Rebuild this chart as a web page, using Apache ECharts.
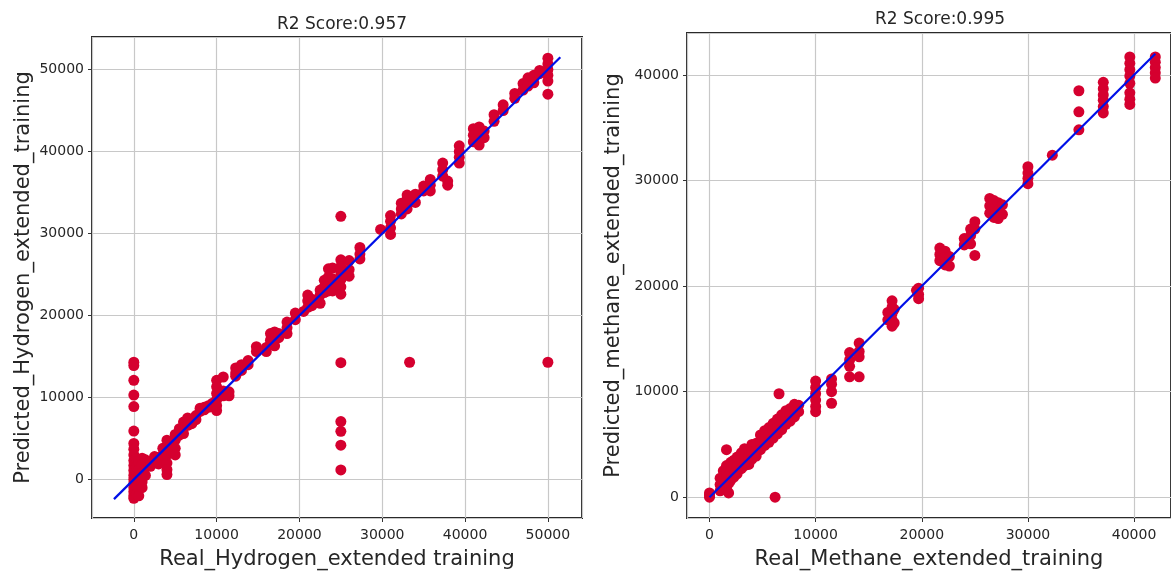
<!DOCTYPE html>
<html>
<head>
<meta charset="utf-8">
<script src="https://cdn.jsdelivr.net/npm/echarts@6/dist/echarts.min.js"></script>
<style>
  html, body { margin: 0; padding: 0; background: #fff; }
  #chart { width: 1171px; height: 575px; }
</style>
</head>
<body>
<div id="chart"></div>
<script>
// hydrogen: real value -> predicted values
const hydrogenReal = [
  0, 0, 0, 0, 0, 0, 0, 0, 0, 0, 0, 0, 0, 0, 0, 0, 0, 0, 0,
  300, 300, 300, 300, 300,
  600, 600, 600, 600, 600,
  1000, 1000, 1000, 1000, 1000,
  1400, 1400, 1400,
  2000, 2000, 2500, 2500, 3000, 3000, 3500, 3500,
  4000, 4000, 4000, 4000, 4000, 4000,
  4500, 4500, 5000, 5000, 5000, 5000, 5500, 5500,
  6000, 6000, 6000, 6500, 6500, 7000, 7000, 7500, 7500,
  8000, 8000, 8500, 8500, 9000, 9000, 9500, 9500,
  10000, 10000, 10000, 10000, 10000, 10000,
  10800, 10800, 10800, 11500, 11500,
  12300, 12300, 12300, 13000, 13000, 13800, 13800,
  14800, 14800, 16000, 16000, 16500, 16500, 16500,
  17000, 17000, 17000, 17500, 17500,
  18500, 18500, 18500, 19500, 19500, 20500,
  21000, 21000, 21000, 21500, 21500,
  22500, 22500, 22500, 23000, 23000, 23000,
  23500, 23500, 23500, 23500, 24000, 24000, 24000, 24000,
  25000, 25000, 25000, 25000, 25000, 25000, 25000, 25000, 25000, 25000, 25000, 25000,
  26000, 26000, 26000, 27300, 27300, 27300,
  29800, 31000, 31000, 31000, 31000,
  32300, 32300, 32300, 33000, 33000, 33000, 33000, 33300,
  34000, 34000, 35000, 35000, 35800, 35800, 35800,
  37300, 37300, 37300, 37900, 37900,
  39300, 39300, 39300, 39300,
  41000, 41000, 41000, 41700, 41700, 41700, 41700, 42300, 42300,
  43500, 43500, 44600, 44600, 46000, 46000, 47000, 47000,
  47600, 47600, 48300, 48300, 49000, 49000,
  50000, 50000, 50000, 50000, 50000, 50000, 50000
];
const hydrogenPred = [
  14300, 13900, 12100, 10300, 8900, 5900, 4400, 3700, 3000, 2300, 1700, 1100, 500, 0, -500, -1000, -1500, -2000, -2300,
  2500, 1500, 500, -800, -1800,
  2200, 1200, 0, -1200, -2000,
  2600, 1800, 800, -300, -1000,
  2400, 1500, 500,
  2200, 1600, 2800, 2000, 2700, 1900, 3800, 3000,
  4800, 4000, 3000, 2000, 1200, 600,
  4600, 3500, 5500, 4800, 3800, 3000, 6200, 5400,
  7000, 6300, 5600, 7500, 6600, 7300, 6800, 7800, 7300,
  8300, 8700, 8800, 8500, 9000, 8800, 9300, 9100,
  12100, 11300, 10500, 9700, 9000, 8400,
  10800, 10200, 12500, 10700, 10200,
  13600, 13000, 12600, 14000, 13300, 14500, 14000,
  16200, 15600, 16100, 15600, 17800, 17000, 16500,
  18000, 17200, 16300, 17800, 17300,
  19200, 18500, 17800, 20300, 19500, 20500,
  22500, 21800, 21000, 22000, 21200,
  23100, 22500, 21500, 24300, 23500, 22800,
  25700, 24700, 23700, 23000, 25800, 24500, 23800, 23000,
  26800, 26000, 25200, 24400, 23500, 22600, 32100, 14250, 7070, 5870, 4180, 1170,
  26700, 25600, 24800, 28300, 27500, 26900,
  30500, 32200, 31500, 30700, 29900,
  33700, 33000, 32400, 34700, 34200, 33600, 33000, 14300,
  34800, 33800, 35800, 35200, 36600, 35900, 35200,
  38600, 37800, 37000, 36400, 35900,
  40700, 40000, 39300, 38600,
  42800, 42000, 41200, 43000, 42300, 41500, 40800, 42500, 41700,
  44500, 43700, 45700, 45000, 47100, 46500, 48300, 47500,
  49000, 48000, 49300, 48400, 49900, 49500,
  51400, 50700, 50000, 49300, 48600, 47000, 14300
];

// methane: real value -> predicted values
const methaneReal = [
  0, 0, 0,
  1000, 1000, 1000, 1300, 1300, 1300,
  1600, 1600, 1600, 1600, 1600, 1800, 1800, 1800, 1800,
  2000, 2000, 2000, 2300, 2300, 2300, 2600, 2600, 2600,
  3000, 3000, 3000, 3300, 3300, 3300, 3700, 3700, 3700,
  4000, 4000, 4000, 4400, 4400, 4400, 4800, 4800, 4800,
  5200, 5200, 5200, 5600, 5600, 5600, 6000, 6000, 6000,
  6180, 6550, 6400, 6400, 6400, 6800, 6800, 6800,
  7200, 7200, 7200, 7600, 7600, 7600, 8000, 8000, 8000, 8400, 8400,
  10000, 10000, 10000, 10000, 10000, 10000,
  11500, 11500, 11500, 11500,
  13200, 13200, 13200, 13200, 14100, 14100, 14100, 14100,
  16800, 16800, 17200, 17200, 17200, 17200, 17200, 17400, 17400,
  19700, 19700, 19700, 19500,
  21700, 21700, 21700, 22200, 22200, 22200, 22600, 22600,
  24000, 24000, 24600, 24600, 24600, 25000, 25000, 25000,
  26400, 26400, 26400, 26800, 26800, 26800, 27200, 27200, 27200, 27600, 27600,
  30000, 30000, 30000, 30000, 32300,
  34800, 34800, 34800,
  37100, 37100, 37100, 37100, 37100, 37100,
  39600, 39600, 39600, 39600, 39600, 39600, 39600, 39600,
  42000, 42000, 42000, 42000, 42000
];
const methanePred = [
  400, 0, 200,
  1800, 1200, 600, 2500, 1800, 1000,
  4500, 3000, 2200, 1500, 800, 2800, 2000, 1300, 400,
  3300, 2500, 1600, 3500, 2700, 1900, 3800, 2900, 2200,
  4200, 3500, 2700, 4600, 3800, 3000, 4500, 3800, 3100,
  5000, 4300, 3600, 5100, 4400, 3900, 5900, 5200, 4500,
  6300, 5500, 4900, 6600, 5900, 5200, 7000, 6300, 5600,
  0, 9800, 7400, 6600, 6000, 7800, 7100, 6400,
  8200, 7500, 6900, 8400, 7800, 7200, 8800, 8200, 7600, 8700, 8100,
  11000, 10400, 9800, 9200, 8600, 8100,
  11200, 10700, 10000, 8900,
  13700, 13000, 12400, 11400, 14600, 13800, 13300, 11400,
  17500, 16800, 18600, 18000, 17400, 16800, 16200, 17800, 16500,
  19800, 19200, 18800, 19600,
  23600, 23000, 22400, 23300, 22700, 22000, 22800, 21900,
  24500, 23900, 25400, 24800, 24000, 26100, 25400, 22900,
  28300, 27600, 26900, 28100, 27300, 26500, 27900, 27200, 26400, 27700, 26800,
  31300, 30700, 30200, 29700, 32400,
  38500, 36500, 34800,
  39300, 38700, 38100, 37600, 37000, 36400,
  41700, 41100, 40500, 39900, 39200, 38300, 37700, 37200,
  41700, 41200, 40700, 40200, 39700
];

// y = x reference lines
const hydrogenFit = [-2400, 51500];
const methaneFit = [0, 42000];

const titles = ['R2 Score:0.957', 'R2 Score:0.995'];

const chart = echarts.init(document.getElementById('chart'));

const font = 'DejaVu Sans';
const textColor = '#262626';
const dotColor = '#d5002f';

function zip(xs, ys) {
  return xs.map((x, i) => [x, ys[i]]);
}

function valueAxis(gridIndex, min, max, name, isY, gap) {
  return {
    type: 'value',
    gridIndex,
    min,
    max,
    splitNumber: 5,
    name,
    nameLocation: 'middle',
    nameGap: gap,
    nameRotate: isY ? 90 : 0,
    nameTextStyle: { fontFamily: font, fontSize: 21, color: textColor },
    axisLine: { show: false, onZero: false },
    axisTick: { show: true, length: 4, lineStyle: { color: '#333' } },
    axisLabel: {
      fontFamily: font,
      fontSize: 14,
      color: textColor,
      margin: isY ? 8 : 10,
      showMinLabel: false,
      showMaxLabel: false,
      formatter: (v) => (v % 10000 === 0 ? String(v) : ''),
    },
    splitLine: { show: true, lineStyle: { color: '#c8c8c8', width: 1.2 } },
  };
}

chart.setOption({
  animation: false,
  backgroundColor: '#fff',
  title: [
    { text: titles[0], left: 337, top: 11, textAlign: 'center',
      textStyle: { fontFamily: font, fontSize: 17, fontWeight: 'normal', color: textColor } },
    { text: titles[1], left: 935, top: 6, textAlign: 'center',
      textStyle: { fontFamily: font, fontSize: 17, fontWeight: 'normal', color: textColor } },
  ],
  grid: [
    { left: 92, top: 37, width: 490, height: 487, show: true, borderColor: '#2a2a2a', borderWidth: 2 },
    { left: 687, top: 33, width: 488, height: 490, show: true, borderColor: '#2a2a2a', borderWidth: 2 },
  ],
  xAxis: [
    valueAxis(0, -5050, 54120, 'Real_Hydrogen_extended training', false, 31),
    valueAxis(1, -2120, 43480, 'Real_Methane_extended_training', false, 31),
  ],
  yAxis: [
    valueAxis(0, -4700, 53980, 'Predicted_Hydrogen_extended_training', true, 58),
    valueAxis(1, -1970, 43970, 'Predicted_methane_extended_training', true, 63),
  ],
  series: [
    {
      type: 'scatter',
      xAxisIndex: 0,
      yAxisIndex: 0,
      data: zip(hydrogenReal, hydrogenPred),
      symbolSize: 11,
      itemStyle: { color: dotColor, opacity: 1 },
    },
    {
      type: 'line',
      xAxisIndex: 0,
      yAxisIndex: 0,
      data: zip(hydrogenFit, hydrogenFit),
      showSymbol: false,
      lineStyle: { color: '#0010e8', width: 2.2 },
    },
    {
      type: 'scatter',
      xAxisIndex: 1,
      yAxisIndex: 1,
      data: zip(methaneReal, methanePred),
      symbolSize: 11,
      itemStyle: { color: dotColor, opacity: 1 },
    },
    {
      type: 'line',
      xAxisIndex: 1,
      yAxisIndex: 1,
      data: zip(methaneFit, methaneFit),
      showSymbol: false,
      lineStyle: { color: '#0010e8', width: 2.2 },
    },
  ],
});
</script>
</body>
</html>
